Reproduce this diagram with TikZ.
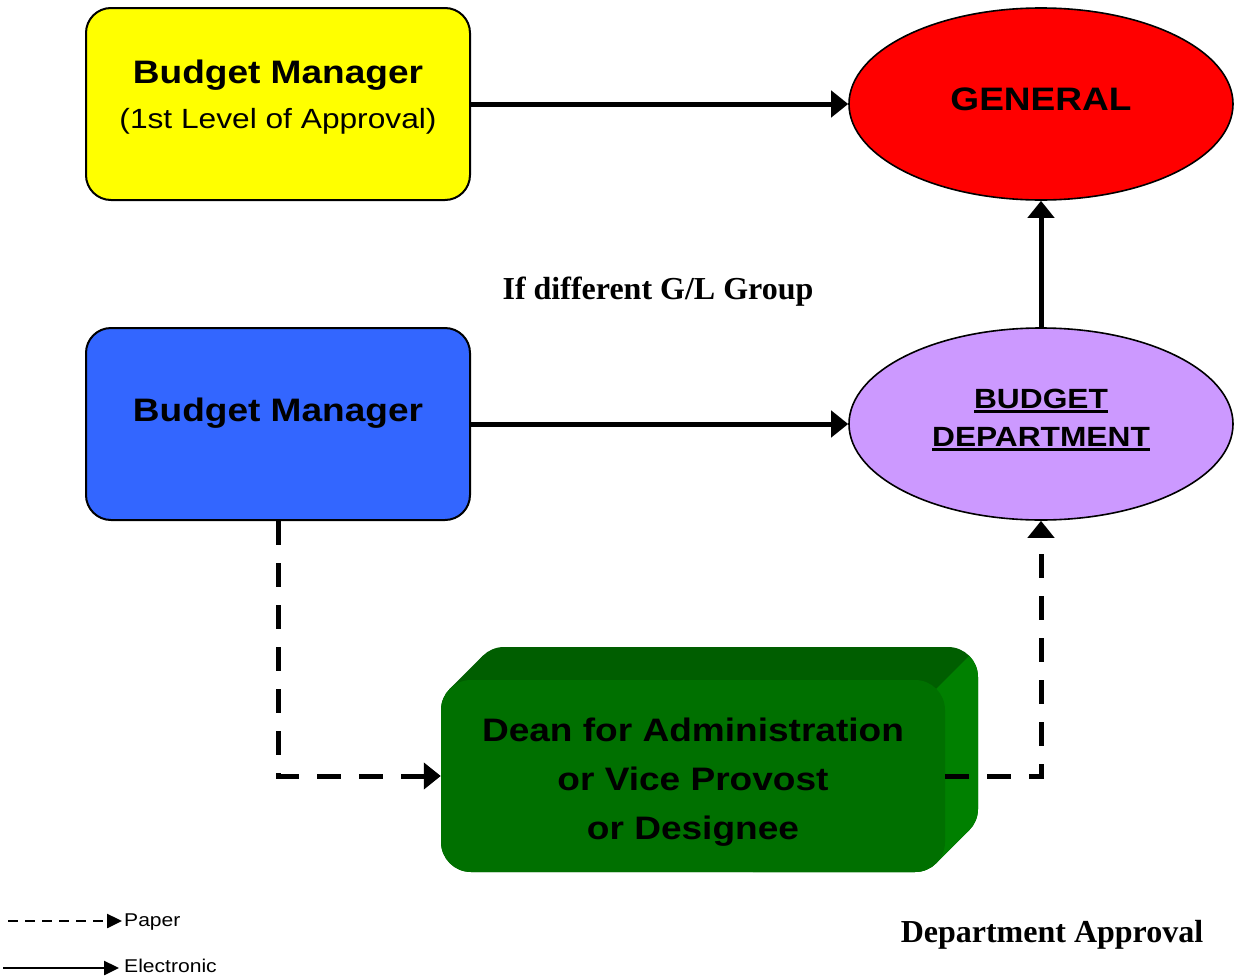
\documentclass[tikz,border=0pt]{standalone}
\usepackage{fontspec}
\newfontfamily\ar[FakeStretch=1.14]{Liberation Sans}
\newfontfamily\tnr{Liberation Serif}
\usetikzlibrary{arrows.meta,shapes.geometric,calc}
\definecolor{ybox}{RGB}{255,255,0}
\definecolor{rell}{RGB}{255,0,0}
\definecolor{bbox}{RGB}{51,102,255}
\definecolor{pell}{RGB}{204,153,255}
\definecolor{gfront}{RGB}{0,112,0}
\definecolor{gtop}{RGB}{0,94,0}
\definecolor{gside}{RGB}{0,128,0}
\newcommand\myul[1]{\setbox0\hbox{#1}\rlap{\rule[-5pt]{\wd0}{3pt}}\box0}
\tikzset{
  boxst/.style={draw=black, line width=2pt, rounded corners=25pt, minimum width=384pt, minimum height=192pt, inner sep=0pt},
  ellst/.style={draw=black, line width=1.6pt, ellipse, minimum width=384pt, minimum height=192pt, inner sep=0pt},
  bt/.style={font=\ar\bfseries\fontsize{32.5}{38}\selectfont, anchor=base, inner sep=0pt},
  rt/.style={font=\ar\fontsize{27.8}{33}\selectfont, anchor=base, inner sep=0pt},
  tt/.style={font=\tnr\bfseries\fontsize{32}{38}\selectfont, anchor=base, inner sep=0pt},
  lt/.style={font=\ar\fontsize{18.5}{22}\selectfont, anchor=base west, inner sep=0pt},
  elec/.style={line width=5pt, -{Triangle[length=17pt,width=26pt]}},
  paper/.style={line width=5pt, dash pattern=on 24pt off 18pt, -{Triangle[length=17pt,width=26pt]}},
}
\begin{document}
\begin{tikzpicture}[x=1pt,y=-1pt]
\useasboundingbox (0,0) rectangle (1234,977);
% nodes
\node[boxst, fill=ybox] (bm1) at (278,104) {};
\node[boxst, fill=bbox] (bm2) at (278,424) {};
\node[ellst, fill=rell] (gen) at (1041,104) {};
\node[ellst, fill=pell] (bd) at (1041,424) {};
% 3D green box: back and sides
\fill[gtop, rounded corners=30pt] (474,647) rectangle (978,839);
\fill[gtop, rounded corners=30pt] (441,680) rectangle (945,872);
\fill[gtop] (449.8,688.8) -- (482.8,655.8) -- (969.2,830.2) -- (936.2,863.2) -- cycle;
\begin{scope}
  \clip (1025,600) -- (725,900) -- (1100,1000) -- (1200,600) -- cycle;
  \fill[gside, rounded corners=30pt] (474,647) rectangle (978,839);
  \fill[gside, rounded corners=30pt] (441,680) rectangle (945,872);
  \fill[gside] (449.8,688.8) -- (482.8,655.8) -- (969.2,830.2) -- (936.2,863.2) -- cycle;
\end{scope}
\node[fill=gfront, rounded corners=30pt, minimum width=504pt, minimum height=192pt, inner sep=0pt] (dean) at (693,776) {};
% texts
\node[bt] (bm1a) at (278,83) {Budget Manager};
\node[rt] (bm1b) at (278,128) {(1st Level of Approval)};
\node[bt] (bm2a) at (278,421) {Budget Manager};
\node[bt] (gena) at (1041,110) {GENERAL};
\node[rt, font=\ar\bfseries\fontsize{27.8}{33}\selectfont] (bda) at (1041,408) {\myul{BUDGET}};
\node[rt, font=\ar\bfseries\fontsize{27.8}{33}\selectfont] (bdb) at (1041,446) {\myul{DEPARTMENT}};
\node[bt] (dna) at (693,741) {Dean for Administration};
\node[bt] (dnb) at (693,790) {or Vice Provost};
\node[bt] (dnc) at (693,839) {or Designee};
\node[tt] (gl) at (658,299) {If different G/L Group};
\node[tt] (da) at (1052,942) {Department Approval};
% connectors
\draw[elec] (bm1) -- (gen);
\draw[elec] (bm2) -- (bd);
\draw[elec] (bd) -- (gen);
\draw[paper] (bm2.south) |- (dean.west);
\draw[paper] (dean.east) -| (bd.south);
% legend
\coordinate (p1) at (8,921);
\coordinate (p2) at (122,921);
\coordinate (e1) at (3,968);
\coordinate (e2) at (119,968);
\draw[line width=2.5pt, dash pattern=on 10pt off 7pt, -{Triangle[length=15pt,width=14pt]}] (p1) -- (p2);
\draw[line width=2.5pt, -{Triangle[length=15pt,width=14pt]}] (e1) -- (e2);
\node[lt] (pl) at (124,926) {Paper};
\node[lt] (el) at (124,972) {Electronic};
\end{tikzpicture}
\end{document}
